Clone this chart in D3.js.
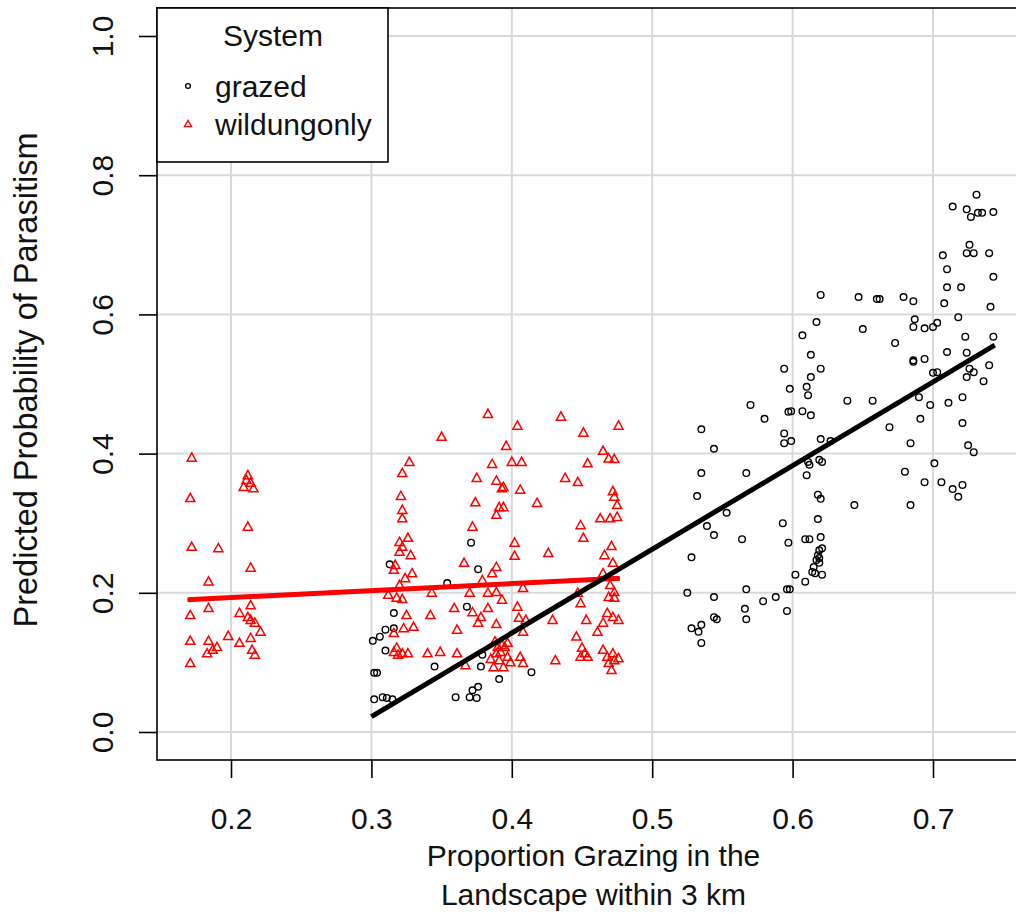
<!DOCTYPE html>
<html>
<head>
<meta charset="utf-8">
<script src="https://cdn.jsdelivr.net/npm/d3@7"></script>
<style>
  body { margin: 0; background: #fff; }
  text { font-family: "Liberation Sans", Arial, sans-serif; fill: #111; }
</style>
</head>
<body>
<script>
// data
var xTicks = [0.2, 0.3, 0.4, 0.5, 0.6, 0.7];
var yTicks = [0.0, 0.2, 0.4, 0.6, 0.8, 1.0];
var systems = ["grazed", "wildungonly"];

var grazed = [
  [0.371,0.272],[0.376,0.234],[0.313,0.241],[0.354,0.214],[0.316,0.171],[0.368,0.180],[0.310,0.147],
  [0.306,0.137],[0.301,0.131],[0.310,0.117],[0.316,0.149],[0.302,0.085],[0.304,0.085],[0.345,0.094],
  [0.378,0.094],[0.379,0.111],[0.391,0.076],[0.302,0.047],[0.308,0.050],[0.311,0.049],[0.315,0.047],
  [0.360,0.050],[0.370,0.050],[0.372,0.060],[0.376,0.065],[0.375,0.049],[0.414,0.086],
  [0.570,0.470],[0.580,0.450],[0.597,0.460],[0.535,0.435],[0.594,0.429],[0.594,0.415],[0.544,0.407],
  [0.535,0.372],[0.567,0.372],[0.532,0.339],[0.553,0.315],[0.539,0.296],[0.544,0.283],[0.564,0.277],
  [0.593,0.300],[0.597,0.272],[0.528,0.251],[0.525,0.200],[0.544,0.194],[0.567,0.205],[0.579,0.188],
  [0.588,0.194],[0.596,0.205],[0.596,0.174],[0.566,0.177],[0.567,0.162],[0.544,0.165],[0.546,0.162],
  [0.528,0.149],[0.535,0.154],[0.533,0.144],[0.535,0.128],
  [0.620,0.628],[0.647,0.625],[0.660,0.622],[0.617,0.589],[0.650,0.579],[0.607,0.570],[0.613,0.542],
  [0.594,0.522],[0.620,0.522],[0.613,0.510],[0.598,0.493],[0.610,0.496],[0.611,0.484],[0.639,0.476],
  [0.657,0.476],[0.599,0.461],[0.607,0.461],[0.613,0.455],[0.599,0.418],[0.620,0.421],[0.627,0.418],
  [0.611,0.388],[0.612,0.384],[0.619,0.391],[0.621,0.388],[0.610,0.369],[0.618,0.341],[0.620,0.335],
  [0.644,0.326],[0.618,0.306],[0.609,0.277],[0.612,0.277],[0.620,0.280],[0.619,0.261],[0.618,0.254],
  [0.617,0.247],[0.619,0.243],[0.615,0.237],[0.614,0.230],[0.616,0.228],[0.621,0.226],[0.619,0.250],
  [0.621,0.264],[0.602,0.226],[0.609,0.216],[0.598,0.205],
  [0.731,0.772],[0.714,0.755],[0.724,0.751],[0.727,0.740],[0.732,0.746],[0.735,0.746],[0.743,0.747],
  [0.726,0.700],[0.724,0.688],[0.729,0.688],[0.740,0.688],[0.707,0.685],[0.710,0.665],[0.743,0.654],
  [0.710,0.639],[0.720,0.639],[0.662,0.622],[0.679,0.625],[0.686,0.619],[0.708,0.616],[0.741,0.611],
  [0.718,0.596],[0.687,0.593],[0.686,0.582],[0.694,0.580],[0.700,0.582],[0.703,0.588],[0.723,0.568],
  [0.743,0.568],[0.673,0.559],[0.710,0.546],[0.724,0.545],[0.686,0.534],[0.686,0.532],[0.694,0.536],
  [0.740,0.527],[0.700,0.516],[0.703,0.517],[0.726,0.522],[0.729,0.517],[0.724,0.510],[0.736,0.504],
  [0.690,0.481],[0.698,0.470],[0.721,0.481],[0.711,0.473],[0.669,0.438],[0.691,0.450],[0.721,0.444],
  [0.684,0.415],[0.725,0.412],[0.729,0.402],[0.701,0.386],[0.680,0.374],[0.694,0.359],[0.706,0.359],
  [0.714,0.349],[0.718,0.338],[0.721,0.355],[0.684,0.326]
];

var wildungonly = [
  [0.172,0.394],[0.171,0.336],[0.212,0.369],[0.211,0.362],[0.209,0.352],[0.216,0.350],[0.214,0.358],
  [0.212,0.295],[0.172,0.266],[0.191,0.264],[0.214,0.236],[0.184,0.216],[0.214,0.182],[0.184,0.178],
  [0.171,0.168],[0.206,0.171],[0.212,0.165],[0.214,0.161],[0.217,0.157],[0.221,0.144],[0.198,0.138],
  [0.206,0.128],[0.214,0.135],[0.215,0.118],[0.217,0.111],[0.171,0.131],[0.184,0.131],[0.190,0.122],
  [0.183,0.113],[0.187,0.118],[0.171,0.099],
  [0.383,0.457],[0.350,0.424],[0.396,0.411],[0.327,0.388],[0.322,0.372],[0.386,0.385],[0.375,0.365],
  [0.389,0.361],[0.393,0.350],[0.321,0.339],[0.374,0.330],[0.322,0.319],[0.322,0.307],[0.391,0.323],
  [0.389,0.312],[0.372,0.295],[0.326,0.279],[0.320,0.273],[0.322,0.266],[0.328,0.254],[0.320,0.259],
  [0.366,0.243],[0.317,0.240],[0.316,0.233],[0.329,0.228],[0.324,0.221],[0.389,0.237],[0.386,0.228],
  [0.379,0.218],[0.320,0.211],[0.312,0.197],[0.318,0.193],[0.322,0.191],[0.343,0.200],[0.370,0.200],
  [0.383,0.200],[0.389,0.201],[0.393,0.190],[0.359,0.178],[0.372,0.172],[0.383,0.178],[0.342,0.168],
  [0.325,0.168],[0.378,0.165],[0.376,0.157],[0.389,0.155],[0.330,0.151],[0.323,0.149],[0.316,0.142],
  [0.361,0.147],[0.316,0.115],[0.319,0.111],[0.322,0.113],[0.326,0.113],[0.318,0.121],[0.340,0.113],
  [0.349,0.115],[0.361,0.113],[0.367,0.096],[0.389,0.113],[0.391,0.103],[0.387,0.093],[0.397,0.108],
  [0.394,0.093],[0.390,0.122],[0.397,0.128],[0.392,0.115],[0.385,0.105],[0.399,0.100],[0.393,0.125],
  [0.388,0.130],
  [0.435,0.453],[0.404,0.440],[0.451,0.430],[0.476,0.440],[0.465,0.404],[0.469,0.393],[0.473,0.392],
  [0.400,0.388],[0.407,0.388],[0.454,0.386],[0.438,0.365],[0.447,0.359],[0.394,0.352],[0.406,0.348],
  [0.472,0.346],[0.473,0.338],[0.475,0.326],[0.418,0.329],[0.394,0.323],[0.463,0.307],[0.470,0.307],
  [0.475,0.309],[0.449,0.297],[0.451,0.279],[0.402,0.272],[0.402,0.253],[0.426,0.257],[0.471,0.267],
  [0.466,0.254],[0.472,0.243],[0.465,0.228],[0.408,0.207],[0.447,0.200],[0.470,0.211],[0.473,0.201],
  [0.469,0.194],[0.473,0.193],[0.404,0.180],[0.449,0.185],[0.405,0.164],[0.410,0.161],[0.408,0.144],
  [0.429,0.161],[0.453,0.161],[0.468,0.171],[0.472,0.165],[0.476,0.161],[0.465,0.157],[0.461,0.144],
  [0.446,0.137],[0.395,0.122],[0.450,0.121],[0.452,0.113],[0.454,0.108],[0.449,0.108],[0.406,0.108],
  [0.408,0.099],[0.431,0.103],[0.465,0.118],[0.468,0.108],[0.472,0.113],[0.473,0.103],[0.471,0.089],
  [0.476,0.106],[0.469,0.099]
];

// fitted lines (end points)
var grazedFit = [[0.300,0.022],[0.744,0.556]];
var wildFit = [[0.169,0.190],[0.477,0.221]];

var svgWidth = 1016;
var svgHeight = 913;

var svg = d3.select("body")
  .append("svg")
  .attr("width", svgWidth)
  .attr("height", svgHeight);

// plot box
var box = {left: 157, right: 1030, top: 8, bottom: 760};

var xscale = d3.scaleLinear()
  .domain([0.2, 0.7])
  .range([231, 933]);

var yscale = d3.scaleLinear()
  .domain([0, 1])
  .range([732, 36]);

// grid
var grid = svg.append("g");
grid.selectAll("line.vx")
  .data(xTicks)
  .enter()
  .append("line")
  .attr("x1", d => xscale(d))
  .attr("x2", d => xscale(d))
  .attr("y1", box.top)
  .attr("y2", box.bottom)
  .attr("stroke", "#d9d9d9")
  .attr("stroke-width", 2);
grid.selectAll("line.hy")
  .data(yTicks)
  .enter()
  .append("line")
  .attr("y1", d => yscale(d))
  .attr("y2", d => yscale(d))
  .attr("x1", box.left)
  .attr("x2", box.right)
  .attr("stroke", "#d9d9d9")
  .attr("stroke-width", 2);

// axes
var bottomAxis = d3.axisBottom(xscale)
  .tickValues(xTicks)
  .tickFormat(d3.format(".1f"))
  .tickSize(18)
  .tickSizeOuter(0);
var xAxis = svg.append("g")
  .attr("transform", `translate(0, ${box.bottom})`)
  .call(bottomAxis);
xAxis.select(".domain").remove();
xAxis.selectAll("line").attr("stroke", "#000").attr("stroke-width", 1.6);
xAxis.selectAll("text")
  .attr("dy", null)
  .attr("y", 69)
  .style("font-size", "30px")
  .style("font-family", "Liberation Sans, Arial, sans-serif");

var leftAxis = d3.axisLeft(yscale)
  .tickValues(yTicks)
  .tickFormat(d3.format(".1f"))
  .tickSize(18)
  .tickSizeOuter(0);
var yAxis = svg.append("g")
  .attr("transform", `translate(${box.left}, 0)`)
  .call(leftAxis);
yAxis.select(".domain").remove();
yAxis.selectAll("line").attr("stroke", "#000").attr("stroke-width", 1.6);
yAxis.selectAll("text")
  .attr("x", null)
  .attr("dy", null)
  .attr("transform", "translate(-44,0) rotate(-90)")
  .attr("text-anchor", "middle")
  .attr("y", 0)
  .style("font-size", "30px")
  .style("font-family", "Liberation Sans, Arial, sans-serif");

// points
var triSize = 4.8;
var triPath = `M0,${-triSize} L${triSize * 0.95},${triSize * 0.72} L${-triSize * 0.95},${triSize * 0.72} Z`;

svg.append("g")
  .selectAll("circle")
  .data(grazed)
  .enter()
  .append("circle")
  .attr("cx", d => xscale(d[0]))
  .attr("cy", d => yscale(d[1]))
  .attr("r", 3.3)
  .attr("fill", "none")
  .attr("stroke", "#000")
  .attr("stroke-width", 1.4);

svg.append("g")
  .selectAll("path")
  .data(wildungonly)
  .enter()
  .append("path")
  .attr("d", triPath)
  .attr("transform", d => `translate(${xscale(d[0])},${yscale(d[1])})`)
  .attr("fill", "none")
  .attr("stroke", "#ff0000")
  .attr("stroke-width", 1.5);

// fitted lines
var line = d3.line()
  .x(d => xscale(d[0]))
  .y(d => yscale(d[1]));

svg.append("path")
  .datum(wildFit)
  .attr("d", line)
  .attr("stroke", "#ff0000")
  .attr("stroke-width", 5)
  .attr("fill", "none");

svg.append("path")
  .datum(grazedFit)
  .attr("d", line)
  .attr("stroke", "#000")
  .attr("stroke-width", 5)
  .attr("fill", "none");

// box
svg.append("rect")
  .attr("x", box.left)
  .attr("y", box.top)
  .attr("width", box.right - box.left)
  .attr("height", box.bottom - box.top)
  .attr("fill", "none")
  .attr("stroke", "#000")
  .attr("stroke-width", 1.6);

// axis titles
svg.append("text")
  .attr("transform", "translate(37, 380) rotate(-90)")
  .attr("text-anchor", "middle")
  .style("font-size", "32.5px")
  .text("Predicted Probability of Parasitism");

var xTitle = svg.append("text")
  .attr("text-anchor", "middle")
  .style("font-size", "30px");
xTitle.append("tspan")
  .attr("x", (box.left + box.right) / 2)
  .attr("y", 866)
  .text("Proportion Grazing in the");
xTitle.append("tspan")
  .attr("x", (box.left + box.right) / 2)
  .attr("y", 905)
  .text("Landscape within 3 km");

// legend
var legend = svg.append("g");
legend.append("rect")
  .attr("x", box.left)
  .attr("y", box.top)
  .attr("width", 231)
  .attr("height", 154)
  .attr("fill", "#fff")
  .attr("stroke", "#000")
  .attr("stroke-width", 1.6);
legend.append("text")
  .attr("x", 273)
  .attr("y", 46)
  .attr("text-anchor", "middle")
  .style("font-size", "30px")
  .text("System");

var legendY = [86, 124];
legend.append("circle")
  .attr("cx", 188)
  .attr("cy", legendY[0])
  .attr("r", 2.4)
  .attr("fill", "none")
  .attr("stroke", "#000")
  .attr("stroke-width", 1.3);
legend.append("path")
  .attr("d", `M0,-3.6 L3.6,2.6 L-3.6,2.6 Z`)
  .attr("transform", `translate(188,${legendY[1]})`)
  .attr("fill", "none")
  .attr("stroke", "#ff0000")
  .attr("stroke-width", 1.3);
legend.selectAll("text.item")
  .data(systems)
  .enter()
  .append("text")
  .attr("class", "item")
  .attr("x", 215)
  .attr("y", (d, i) => legendY[i] + 11)
  .style("font-size", "30px")
  .text(d => d);
</script>
</body>
</html>
